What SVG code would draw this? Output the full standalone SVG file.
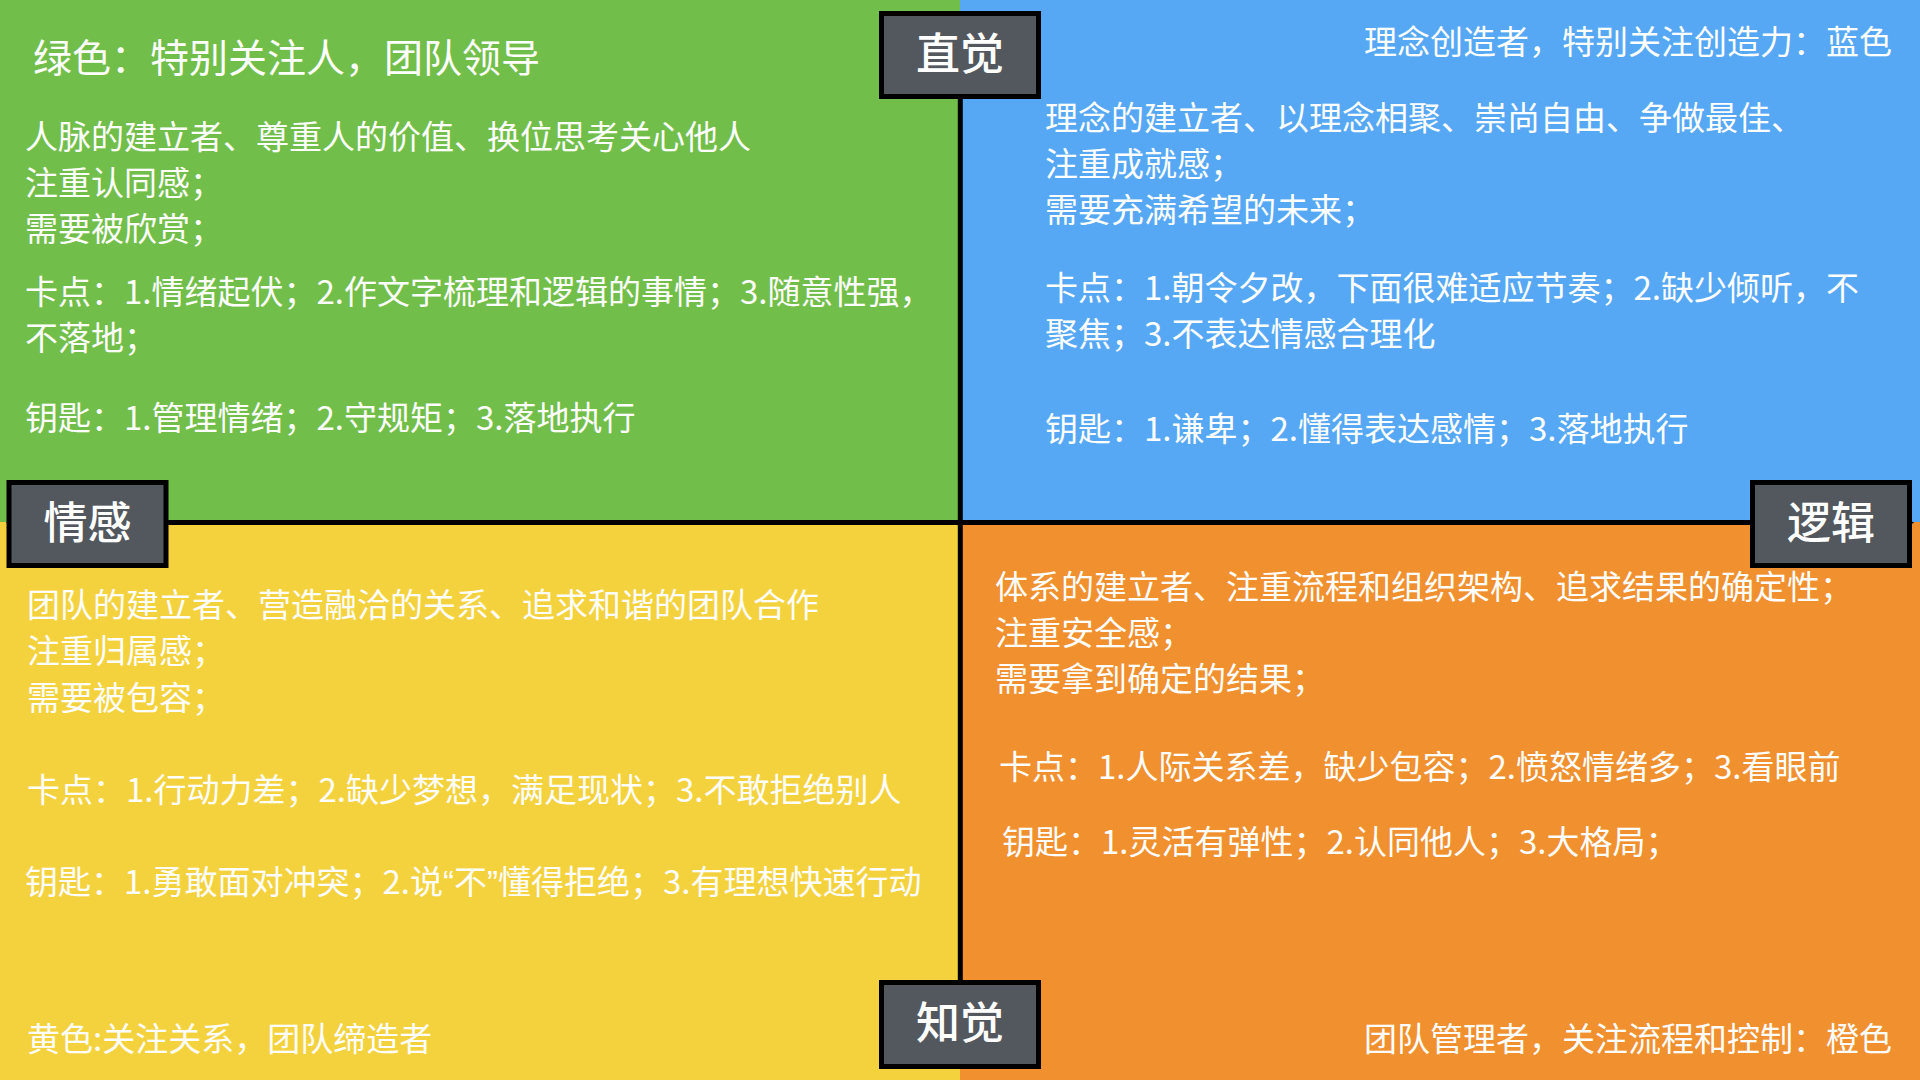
<svg xmlns="http://www.w3.org/2000/svg" width="1920" height="1080" viewBox="0 0 1920 1080">
<style>
.t{font-family:"PingFang SC","Noto Sans CJK SC","Noto Sans",sans-serif;fill:#ffffff;font-size:33px;}
.title{font-size:39px;}
.sub{font-size:33px;}
.q{font-family:"Liberation Sans",sans-serif;}
.lbl{font-family:"PingFang SC","Noto Sans CJK SC","Noto Sans",sans-serif;fill:#ffffff;font-size:44px;font-weight:500;text-anchor:middle;}
.box{fill:#53575e;stroke:#000000;stroke-width:5;}
.axis{stroke:#000000;stroke-width:5;fill:none;}
</style>
<defs>
<marker id="arr" viewBox="0 0 10 10" refX="9" refY="5" markerWidth="4.5" markerHeight="4.5" orient="auto-start-reverse" markerUnits="strokeWidth">
<path d="M0,0 L10,5 L0,10 z" fill="#000000"/>
</marker>
</defs>

<g id="quadrant-green">
<rect x="0" y="0" width="960" height="522" fill="#72be4a"/>
<text class="t title" x="33" y="72">绿色：特别关注人，团队领导</text>
<text class="t" x="25" y="149">人脉的建立者、尊重人的价值、换位思考关心他人</text>
<text class="t" x="25" y="195">注重认同感；</text>
<text class="t" x="25" y="241">需要被欣赏；</text>
<text class="t" x="25" y="304">卡点：1.情绪起伏；2.作文字梳理和逻辑的事情；3.随意性强，</text>
<text class="t" x="25" y="350">不落地；</text>
<text class="t" x="25" y="430">钥匙：1.管理情绪；2.守规矩；3.落地执行</text>
</g>

<g id="quadrant-blue">
<rect x="960" y="0" width="960" height="522" fill="#56a8f5"/>
<text class="t sub" x="1892" y="54" text-anchor="end">理念创造者，特别关注创造力：蓝色</text>
<text class="t" x="1045" y="130">理念的建立者、以理念相聚、崇尚自由、争做最佳、</text>
<text class="t" x="1045" y="176">注重成就感；</text>
<text class="t" x="1045" y="222">需要充满希望的未来；</text>
<text class="t" x="1045" y="300">卡点：1.朝令夕改，下面很难适应节奏；2.缺少倾听，不</text>
<text class="t" x="1045" y="346">聚焦；3.不表达情感合理化</text>
<text class="t" x="1045" y="441">钥匙：1.谦卑；2.懂得表达感情；3.落地执行</text>
</g>

<g id="quadrant-yellow">
<rect x="0" y="522" width="960" height="558" fill="#f4d23e"/>
<text class="t" x="27" y="617">团队的建立者、营造融洽的关系、追求和谐的团队合作</text>
<text class="t" x="27" y="663">注重归属感；</text>
<text class="t" x="27" y="710">需要被包容；</text>
<text class="t" x="27" y="802">卡点：1.行动力差；2.缺少梦想，满足现状；3.不敢拒绝别人</text>
<text class="t" x="25" y="894">钥匙：1.勇敢面对冲突；2.说<tspan class="q">“</tspan>不<tspan class="q">”</tspan>懂得拒绝；3.有理想快速行动</text>
<text class="t" x="27" y="1051">黄色:关注关系，团队缔造者</text>
</g>

<g id="quadrant-orange">
<rect x="960" y="522" width="960" height="558" fill="#f0902f"/>
<text class="t" x="995" y="599">体系的建立者、注重流程和组织架构、追求结果的确定性；</text>
<text class="t" x="995" y="645">注重安全感；</text>
<text class="t" x="995" y="691">需要拿到确定的结果；</text>
<text class="t" x="999" y="779">卡点：1.人际关系差，缺少包容；2.愤怒情绪多；3.看眼前</text>
<text class="t" x="1002" y="854">钥匙：1.灵活有弹性；2.认同他人；3.大格局；</text>
<text class="t sub" x="1892" y="1051" text-anchor="end">团队管理者，关注流程和控制：橙色</text>
</g>

<g id="connectors">
<line class="axis" x1="8" y1="522.5" x2="1912" y2="522.5" marker-start="url(#arr)" marker-end="url(#arr)"/>
<line class="axis" x1="960.3" y1="40" x2="960.3" y2="1040"/>
</g>

<g id="label-intuition">
<rect class="box" x="881.5" y="13.5" width="157" height="83"/>
<text class="lbl" x="960" y="70">直觉</text>
</g>
<g id="label-emotion">
<rect class="box" x="9" y="482.5" width="157" height="83"/>
<text class="lbl" x="87.5" y="539">情感</text>
</g>
<g id="label-logic">
<rect class="box" x="1752.5" y="482.5" width="157" height="83"/>
<text class="lbl" x="1831" y="539">逻辑</text>
</g>
<g id="label-perception">
<rect class="box" x="881.5" y="982.5" width="157" height="84"/>
<text class="lbl" x="960" y="1039">知觉</text>
</g>
</svg>
